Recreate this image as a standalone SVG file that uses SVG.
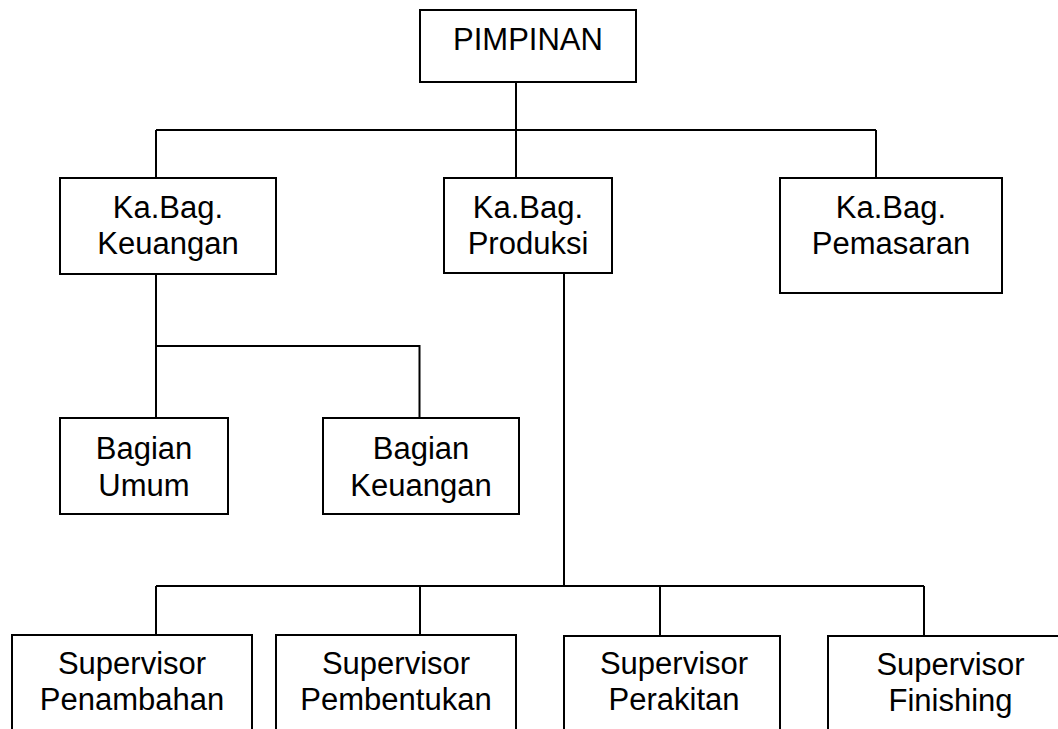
<svg xmlns="http://www.w3.org/2000/svg" width="1058" height="729" viewBox="0 0 1058 729">
<style>
.box{fill:#fff;stroke:#000;stroke-width:2}
.ln{fill:none;stroke:#000;stroke-width:2}
.t{font-family:"Liberation Sans",Arial,sans-serif;font-size:31px;fill:#000;text-anchor:middle}
</style>
<rect width="1058" height="729" fill="#fff"/>
<g id="connectors">
<path class="ln" d="M516,82 V178 M156,130 H876 M156,130 V178 M876,130 V178"/>
<path class="ln" d="M156,274 V418 M156,346 H419.5 V418"/>
<path class="ln" d="M564,273 V586 M156,586 H924 M156,586 V635 M420,586 V635 M660,586 V636 M924,586 V636"/>
</g>
<g id="pimpinan"><rect class="box" x="420" y="10" width="216" height="72"/><text class="t" x="528" y="50">PIMPINAN</text></g>
<g id="kabag-keuangan"><rect class="box" x="60" y="178" width="216" height="96"/><text class="t" x="168" y="217.5">Ka.Bag.</text><text class="t" x="168" y="254">Keuangan</text></g>
<g id="kabag-produksi"><rect class="box" x="444" y="178" width="168" height="95"/><text class="t" x="528" y="217.5">Ka.Bag.</text><text class="t" x="528" y="254">Produksi</text></g>
<g id="kabag-pemasaran"><rect class="box" x="780" y="178" width="222" height="115"/><text class="t" x="891" y="217.5">Ka.Bag.</text><text class="t" x="891" y="254">Pemasaran</text></g>
<g id="bagian-umum"><rect class="box" x="60" y="418" width="168" height="96"/><text class="t" x="144" y="459">Bagian</text><text class="t" x="144" y="496">Umum</text></g>
<g id="bagian-keuangan"><rect class="box" x="323" y="418" width="196" height="96"/><text class="t" x="421" y="459">Bagian</text><text class="t" x="421" y="496">Keuangan</text></g>
<g id="sup-penambahan"><rect class="box" x="12" y="635" width="240" height="110"/><text class="t" x="132" y="674">Supervisor</text><text class="t" x="132" y="710">Penambahan</text></g>
<g id="sup-pembentukan"><rect class="box" x="276" y="635" width="240" height="110"/><text class="t" x="396" y="674">Supervisor</text><text class="t" x="396" y="710">Pembentukan</text></g>
<g id="sup-perakitan"><rect class="box" x="564" y="636" width="216" height="110"/><text class="t" x="674" y="674">Supervisor</text><text class="t" x="674" y="710">Perakitan</text></g>
<g id="sup-finishing"><rect class="box" x="828" y="636" width="245" height="110"/><text class="t" x="950.5" y="675">Supervisor</text><text class="t" x="950.5" y="711">Finishing</text></g>
</svg>
